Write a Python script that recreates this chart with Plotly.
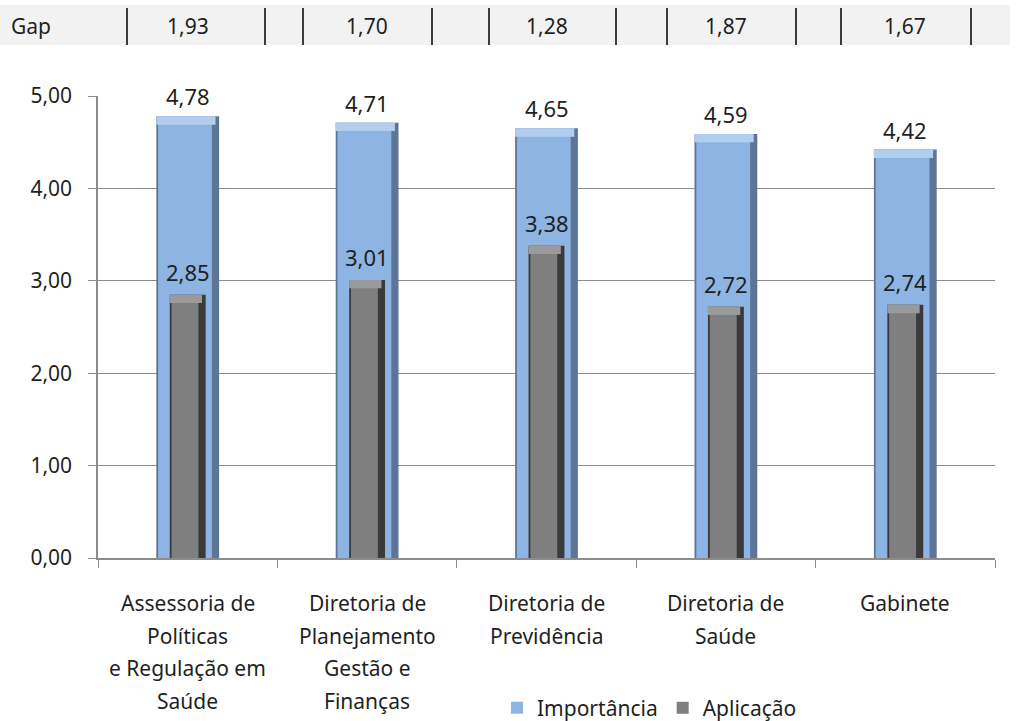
import plotly.graph_objects as go

categories = ["Assessoria de<br>Políticas<br>e Regulação em<br>Saúde",
              "Diretoria de<br>Planejamento<br>Gestão e<br>Finanças",
              "Diretoria de<br>Previdência",
              "Diretoria de<br>Saúde",
              "Gabinete"]
importancia = [4.78, 4.71, 4.65, 4.59, 4.42]
aplicacao = [2.85, 3.01, 3.38, 2.72, 2.74]
gap = [1.93, 1.70, 1.28, 1.87, 1.67]
y_ticks = [0, 1, 2, 3, 4, 5]

FONT = "Noto Sans"
TXT = "#1f1f1f"
FS = 21
W, H = 1022, 721
BEVEL = 0.09

def fmt(v):
    return f"{v:.2f}".replace(".", ",")

fig = go.Figure()
# Importância: dark base + lighter face + light top bevel
fig.add_trace(go.Bar(x=categories, y=importancia, width=0.35, offset=-0.175,
                     marker=dict(color="#5d7597", line=dict(width=0)),
                     showlegend=False, hoverinfo="skip"))
fig.add_trace(go.Bar(x=categories, y=importancia, width=0.30, offset=-0.175 + 0.01,
                     name="Importância",
                     marker=dict(color="#8db4e2", line=dict(width=0))))
fig.add_trace(go.Bar(x=categories, y=[BEVEL] * len(importancia),
                     base=[v - BEVEL for v in importancia],
                     width=0.33, offset=-0.175,
                     marker=dict(color="#b3cdee", line=dict(width=0)),
                     showlegend=False, hoverinfo="skip"))
# Aplicação
fig.add_trace(go.Bar(x=categories, y=aplicacao, width=0.20, offset=-0.10,
                     marker=dict(color="#3a3a3a", line=dict(width=0)),
                     showlegend=False, hoverinfo="skip"))
fig.add_trace(go.Bar(x=categories, y=aplicacao, width=0.15, offset=-0.10 + 0.01,
                     name="Aplicação",
                     marker=dict(color="#7f7f7f", line=dict(width=0))))
fig.add_trace(go.Bar(x=categories, y=[BEVEL] * len(aplicacao),
                     base=[v - BEVEL for v in aplicacao],
                     width=0.18, offset=-0.10,
                     marker=dict(color="#9a9a9a", line=dict(width=0)),
                     showlegend=False, hoverinfo="skip"))

PL, PW, PT, PH = 98, 897, 96, 462
def px(x):
    return (x - PL) / PW
def py(y):
    return (PT + PH - y) / PH

annotations = []
for c, v in zip(categories, importancia):
    annotations.append(dict(x=c, y=v, text=fmt(v), showarrow=False, yshift=20,
                            font=dict(family=FONT, size=FS + 1, color=TXT)))
for c, v in zip(categories, aplicacao):
    annotations.append(dict(x=c, y=v, text=fmt(v), showarrow=False, yshift=23,
                            font=dict(family=FONT, size=FS + 1, color=TXT)))
# category labels, one line at a time (Excel-like line spacing)
line_y = [603, 635.5, 668, 700.5]
for c in categories:
    for i, part in enumerate(c.split("<br>")):
        annotations.append(dict(x=c, xref="x", yref="paper", y=py(line_y[i]), text=part,
                                showarrow=False, yanchor="middle",
                                font=dict(family=FONT, size=FS, color=TXT)))
# Gap row
annotations.append(dict(xref="paper", yref="paper", x=px(9), y=py(26), text="Gap",
                        showarrow=False, xanchor="left", yanchor="middle",
                        font=dict(family=FONT, size=FS, color=TXT)))
for c, g in zip(categories, gap):
    annotations.append(dict(x=c, xref="x", yref="paper", y=py(26), text=fmt(g),
                            showarrow=False, yanchor="middle",
                            font=dict(family=FONT, size=FS, color=TXT)))

shapes = [dict(type="rect", xref="paper", yref="paper", x0=px(0), x1=px(1010),
               y0=py(45), y1=py(5), fillcolor="#f2f2f2", line=dict(width=0), layer="below")]
for xl in [127, 265, 303, 432, 489, 616, 667, 796, 841, 971]:
    shapes.append(dict(type="line", xref="paper", yref="paper", x0=px(xl), x1=px(xl),
                       y0=py(45), y1=py(8), line=dict(color="#000000", width=1.5)))

fig.update_layout(
    width=W, height=H,
    margin=dict(l=PL, r=W - PL - PW, t=PT, b=H - PT - PH, autoexpand=False),
    paper_bgcolor="white", plot_bgcolor="white",
    barmode="overlay", separators=",.",
    font=dict(family=FONT, size=FS, color=TXT),
    annotations=annotations, shapes=shapes,
    legend=dict(orientation="h", xref="container", yref="container",
                x=497 / W, y=1 - 708 / H, xanchor="left", yanchor="middle",
                font=dict(family=FONT, size=FS, color=TXT), itemwidth=30,
                bgcolor="rgba(0,0,0,0)"),
    xaxis=dict(type="category", tickson="boundaries", ticks="outside", ticklen=8,
               tickcolor="#8c8c8c", showline=True, linecolor="#8c8c8c", linewidth=1.5,
               showgrid=False, showticklabels=False, automargin=False,
               range=[-0.5, 4.5]),
    yaxis=dict(range=[0, 5], tickvals=y_ticks, tickformat=".2f", ticks="outside",
               ticklen=8, tickcolor="#8c8c8c", showline=True, linecolor="#8c8c8c",
               linewidth=1.5, gridcolor="#8c8c8c", gridwidth=1, zeroline=False,
               automargin=False, ticklabelstandoff=12,
               tickfont=dict(family=FONT, size=FS, color=TXT)),
)
fig.write_html("out.html")
